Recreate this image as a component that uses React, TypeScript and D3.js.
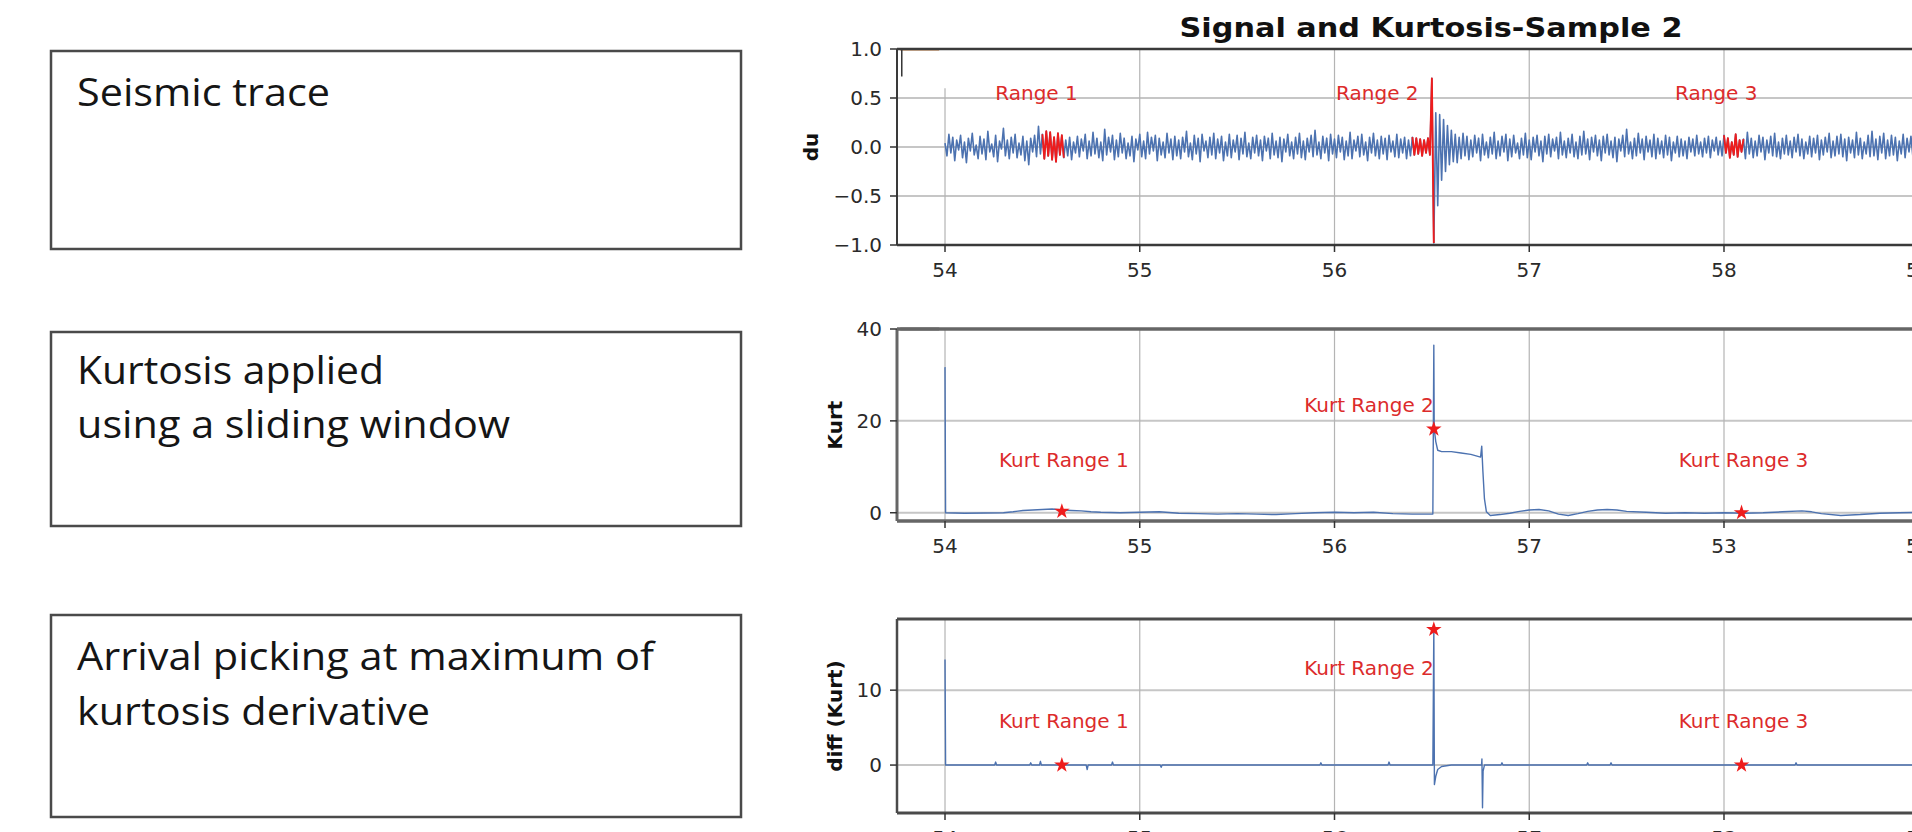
import React from "react";
import * as d3 from "d3";

const W = 1912;
const H = 832;

// ---------- left-hand text boxes ----------
const boxTexts: string[][] = [
  ["Seismic trace"],
  ["Kurtosis applied", "using a sliding window"],
  ["Arrival picking at maximum of", "kurtosis derivative"],
];
const boxRects = [
  { x: 51, y: 51, w: 690, h: 198 },
  { x: 51, y: 332, w: 690, h: 194 },
  { x: 51, y: 615, w: 690, h: 202 },
];
const boxBaselines = [[106], [384, 438], [670, 725]];
const boxTextWidths = [[253], [307, 433], [577, 353]];

// ---------- chart text ----------
const chartTitle = "Signal and Kurtosis-Sample 2";
const yLabels = ["du", "Kurt", "diff (Kurt)"];
const xTickValues = [54, 55, 56, 57, 58, 59];
const xTickLabelsTop = ["54", "55", "56", "57", "58", "59"];
const xTickLabelsLower = ["54", "55", "56", "57", "53", "59"];
const yTicksSignal = [-1, -0.5, 0, 0.5, 1];
const yTicksKurt = [0, 20, 40];
const yTicksDiff = [0, 10];

// ---------- seismic trace (du), sampled every 0.01 s from 54.00 ----------
const SIGNAL_T0 = 54.0;
const SIGNAL_DT = 0.01;
const signal: number[] = [
  0.04,-0.09,0.13,-0.06,0.10,-0.14,0.07,-0.03,0.12,-0.11,0.05,-0.16,0.09,-0.04,0.14,-0.08,0.02,-0.12,0.11,-0.07,
  0.08,-0.13,0.16,-0.05,0.03,-0.10,0.12,-0.15,0.06,-0.02,0.19,-0.09,0.07,-0.12,0.10,-0.06,0.13,-0.11,0.04,-0.08,
  0.11,-0.14,0.06,-0.18,0.09,-0.05,0.12,-0.10,0.21,-0.07,0.13,-0.12,0.16,-0.09,0.15,-0.13,0.10,-0.15,0.14,-0.08,
  0.12,-0.11,0.07,-0.09,0.10,-0.13,0.05,-0.06,0.11,-0.10,0.08,-0.04,0.13,-0.12,0.06,-0.09,0.15,-0.07,0.09,-0.11,
  0.05,-0.14,0.18,-0.08,0.10,-0.05,0.12,-0.13,0.07,-0.10,0.14,-0.06,0.09,-0.12,0.04,-0.09,0.11,-0.15,0.08,-0.03,
  0.13,-0.10,0.06,-0.12,0.15,-0.07,0.10,-0.04,0.12,-0.14,0.09,-0.08,0.05,-0.11,0.14,-0.06,0.08,-0.13,0.11,-0.09,
  0.07,-0.12,0.10,-0.05,0.16,-0.10,0.04,-0.13,0.12,-0.07,0.09,-0.15,0.13,-0.04,0.06,-0.11,0.10,-0.08,0.14,-0.12,
  0.08,-0.06,0.11,-0.14,0.05,-0.09,0.13,-0.11,0.07,-0.05,0.12,-0.13,0.09,-0.07,0.15,-0.10,0.04,-0.12,0.10,-0.06,
  0.12,-0.09,0.07,-0.14,0.11,-0.04,0.09,-0.12,0.14,-0.08,0.06,-0.11,0.10,-0.15,0.08,-0.05,0.13,-0.09,0.05,-0.12,
  0.10,-0.07,0.14,-0.11,0.06,-0.13,0.09,-0.05,0.12,-0.10,0.17,-0.08,0.05,-0.12,0.11,-0.06,0.09,-0.14,0.13,-0.07,
  0.08,-0.11,0.12,-0.05,0.10,-0.13,0.06,-0.09,0.15,-0.12,0.07,-0.04,0.11,-0.10,0.13,-0.08,0.05,-0.14,0.10,-0.06,
  0.14,-0.09,0.07,-0.12,0.11,-0.07,0.09,-0.13,0.12,-0.05,0.06,-0.10,0.13,-0.11,0.08,-0.06,0.10,-0.12,0.07,-0.09,
  0.10,-0.08,0.09,-0.07,0.08,-0.09,0.07,-0.06,0.09,-0.08,0.70,-0.98,0.35,-0.60,0.33,-0.34,0.28,-0.25,0.22,-0.18,
  0.17,-0.15,0.13,-0.16,0.10,-0.12,0.14,-0.09,0.11,-0.13,0.07,-0.10,0.12,-0.06,0.09,-0.14,0.13,-0.08,0.05,-0.11,
  0.10,-0.07,0.15,-0.12,0.06,-0.09,0.11,-0.05,0.13,-0.14,0.08,-0.10,0.12,-0.06,0.04,-0.12,0.09,-0.08,0.14,-0.11,
  0.07,-0.13,0.10,-0.05,0.12,-0.09,0.06,-0.15,0.11,-0.07,0.13,-0.10,0.08,-0.04,0.10,-0.12,0.15,-0.08,0.06,-0.11,
  0.09,-0.06,0.13,-0.10,0.05,-0.12,0.11,-0.08,0.16,-0.07,0.08,-0.13,0.10,-0.05,0.12,-0.09,0.07,-0.14,0.11,-0.06,
  0.13,-0.08,0.06,-0.11,0.10,-0.15,0.08,-0.04,0.12,-0.10,0.18,-0.07,0.05,-0.12,0.09,-0.09,0.14,-0.06,0.08,-0.13,
  0.11,-0.05,0.07,-0.10,0.13,-0.12,0.09,-0.07,0.06,-0.11,0.12,-0.08,0.10,-0.14,0.05,-0.06,0.11,-0.10,0.08,-0.09,
  0.06,-0.12,0.10,-0.05,0.08,-0.09,0.12,-0.07,0.05,-0.10,0.09,-0.06,0.11,-0.11,0.07,-0.04,0.10,-0.08,0.06,-0.09,
  0.12,-0.06,0.09,-0.11,0.05,-0.08,0.13,-0.10,0.07,-0.05,0.08,-0.12,0.15,-0.07,0.09,-0.11,0.06,-0.09,0.12,-0.05,
  0.10,-0.13,0.07,-0.06,0.11,-0.09,0.14,-0.10,0.05,-0.12,0.09,-0.07,0.12,-0.08,0.06,-0.11,0.10,-0.05,0.13,-0.09,
  0.08,-0.12,0.05,-0.07,0.11,-0.10,0.09,-0.06,0.12,-0.13,0.07,-0.08,0.10,-0.05,0.14,-0.11,0.06,-0.09,0.11,-0.07,
  0.13,-0.10,0.08,-0.14,0.10,-0.06,0.07,-0.11,0.15,-0.08,0.09,-0.12,0.05,-0.07,0.12,-0.10,0.16,-0.09,0.08,-0.13,
  0.11,-0.06,0.14,-0.12,0.07,-0.09,0.12,-0.08,0.10,-0.14,0.06,-0.07,0.13,-0.11,0.09,-0.05,0.11,-0.10,0.08,-0.12,
  0.10,-0.08,0.13,-0.06,0.07,-0.11,0.12,-0.09,0.05,-0.13,0.10,-0.07,0.14,-0.10,0.06,-0.08,0.11,-0.12,0.09,-0.05,
];
// sample index ranges highlighted in red (inclusive)
const redRangeStart = [50, 240, 400];
const redRangeEnd = [61, 251, 410];
const rangeLabels = ["Range 1", "Range 2", "Range 3"];
const rangeLabelT = [54.47, 56.22, 57.96];
const rangeLabelV = [0.48, 0.48, 0.48];

// ---------- kurtosis (sliding window) ----------
const kurtosis: [number, number][] = [
  [54.0, 31.7], [54.003, 0.0], [54.1, -0.1], [54.2, -0.05], [54.3, 0.0], [54.35, 0.2],
  [54.4, 0.5], [54.45, 0.6], [54.5, 0.7], [54.55, 0.8], [54.6, 0.6], [54.65, 0.5],
  [54.7, 0.4], [54.75, 0.2], [54.8, 0.1], [54.9, 0.0], [55.0, 0.1], [55.1, 0.2],
  [55.2, -0.1], [55.3, -0.2], [55.4, -0.3], [55.5, -0.2], [55.6, -0.3], [55.7, -0.4],
  [55.8, -0.2], [55.9, 0.0], [56.0, 0.1], [56.1, 0.0], [56.2, 0.1], [56.3, -0.2],
  [56.4, -0.3], [56.505, -0.3], [56.51, 36.5], [56.512, 18.2], [56.52, 15.5], [56.53, 13.6],
  [56.55, 13.3], [56.6, 13.3], [56.65, 13.0], [56.7, 12.7], [56.75, 12.1], [56.756, 14.5],
  [56.762, 9.0], [56.77, 3.0], [56.78, 0.2], [56.8, -0.6], [56.85, -0.4], [56.9, -0.1],
  [56.95, 0.3], [57.0, 0.6], [57.05, 0.7], [57.1, 0.4], [57.15, -0.3], [57.2, -0.6],
  [57.25, -0.2], [57.3, 0.3], [57.35, 0.6], [57.4, 0.7], [57.45, 0.6], [57.5, 0.3],
  [57.6, 0.1], [57.7, -0.1], [57.8, 0.0], [57.9, -0.1], [58.0, 0.0], [58.1, -0.1],
  [58.2, 0.0], [58.3, 0.2], [58.4, 0.4], [58.45, 0.2], [58.5, -0.2], [58.6, -0.6],
  [58.7, -0.4], [58.8, -0.1], [58.9, 0.0], [59.0, 0.1], [59.1, 0.0], [59.25, 0.0],
];

// ---------- derivative of kurtosis ----------
const kurtDiff: [number, number][] = [
  [54.0, 14.1], [54.003, 0], [54.255, 0], [54.26, 0.4], [54.265, 0], [54.435, 0], [54.44, 0.3],
  [54.445, 0], [54.485, 0], [54.49, 0.5], [54.495, 0], [54.725, 0], [54.73, -0.6], [54.735, 0],
  [54.855, 0], [54.86, 0.4], [54.865, 0], [55.105, 0], [55.11, -0.3], [55.115, 0], [55.925, 0],
  [55.93, 0.3], [55.935, 0], [56.275, 0], [56.28, 0.4], [56.285, 0], [56.505, 0], [56.51, 18.3],
  [56.513, -2.6], [56.52, -1.5], [56.53, -0.6], [56.55, -0.2], [56.6, 0], [56.755, 0],
  [56.757, 0.8], [56.76, -5.7], [56.763, -0.8], [56.77, 0], [56.855, 0], [56.86, 0.3],
  [56.865, 0], [57.295, 0], [57.3, 0.3], [57.305, 0], [57.415, 0], [57.42, 0.3], [57.425, 0],
  [58.365, 0], [58.37, 0.3], [58.375, 0], [59.25, 0],
];

// ---------- picks (stars) ----------
const pickT = [54.6, 56.51, 58.09];
const pickKurt = [0.3, 18.2, 0.0];
const pickDiff = [0.0, 18.1, 0.0];
const kurtLabels = ["Kurt Range 1", "Kurt Range 2", "Kurt Range 3"];
const kurtLabelT = [54.61, 56.51, 58.1];
const kurtLabelAnchor = ["middle", "end", "middle"];
const kurtLabelVKurt = [10, 22, 10];
const kurtLabelVDiff = [4.9, 12, 4.9];

// ---------- styling ----------
const BLUE = "#4c72b0";
const RED = "#ee1c1c";
const TEXT_RED = "#dc2b2b";
const FONT = "'DejaVu Sans', sans-serif";

const xScale = d3.scaleLinear().domain([53.7535, 59.2375]).range([897, 1965]);

interface PanelCfg {
  id: string;
  top: number;
  bottom: number;
  domain: [number, number];
  yTicks: number[];
  yFmt: (v: number) => string;
  xLabels: string[];
  yLabel: string;
  yLabelX: number;
  spine: string;
  spineW: number;
}

const panels: PanelCfg[] = [
  { id: "p1", top: 49, bottom: 245, domain: [-1, 1], yTicks: yTicksSignal, yFmt: d3.format(".1f"), xLabels: xTickLabelsTop, yLabel: yLabels[0], yLabelX: 811, spine: "#3a3a3a", spineW: 2.5 },
  { id: "p2", top: 329, bottom: 521, domain: [-1.8, 40], yTicks: yTicksKurt, yFmt: d3.format("d"), xLabels: xTickLabelsLower, yLabel: yLabels[1], yLabelX: 835, spine: "#666", spineW: 3.5 },
  { id: "p3", top: 619, bottom: 813, domain: [-6.4, 19.5], yTicks: yTicksDiff, yFmt: d3.format("d"), xLabels: xTickLabelsLower, yLabel: yLabels[2], yLabelX: 835, spine: "#4a4a4a", spineW: 3 },
];

function yScaleOf(p: PanelCfg) {
  return d3.scaleLinear().domain(p.domain).range([p.bottom, p.top]);
}

function Frame({ p, children, gridTop }: { p: PanelCfg; children?: React.ReactNode; gridTop?: number[] }) {
  const y = yScaleOf(p);
  const [x0, x1] = xScale.range();
  return (
    <g>
      <defs>
        <clipPath id={`clip-${p.id}`}>
          <rect x={x0} y={p.top - 2} width={x1 - x0} height={p.bottom - p.top + 4} />
        </clipPath>
      </defs>
      {p.yTicks.map((t) => (
        <line key={"gy" + t} x1={x0} x2={x1} y1={y(t)} y2={y(t)} stroke="#c6c6c6" strokeWidth={2} />
      ))}
      {xTickValues.map((t, i) => (
        <line key={"gx" + t} x1={xScale(t)} x2={xScale(t)} y1={gridTop ? y(gridTop[i]) : p.top} y2={p.bottom} stroke="#b4b4b4" strokeWidth={1.2} />
      ))}
      <g clipPath={`url(#clip-${p.id})`}>{children}</g>
      <line x1={x0} x2={x1} y1={p.top} y2={p.top} stroke={p.spine} strokeWidth={p.spineW} />
      <line x1={x0} x2={x1} y1={p.bottom} y2={p.bottom} stroke={p.spine} strokeWidth={p.spineW} />
      <line x1={x0} x2={x0} y1={p.top} y2={p.bottom} stroke={p.spine} strokeWidth={p.spineW - 0.5} />
      {p.yTicks.map((t) => (
        <g key={"ty" + t}>
          <line x1={x0 - 7} x2={x0} y1={y(t)} y2={y(t)} stroke="#333" strokeWidth={1.5} />
          <text x={x0 - 15} y={y(t)} textAnchor="end" dominantBaseline="central" fontFamily={FONT} fontSize={20} fill="#2a2a2a">
            {p.yFmt(t)}
          </text>
        </g>
      ))}
      {xTickValues.map((t, i) => (
        <g key={"tx" + t}>
          <line x1={xScale(t)} x2={xScale(t)} y1={p.bottom} y2={p.bottom + 7} stroke="#333" strokeWidth={1.5} />
          <text x={xScale(t)} y={p.bottom + 25} textAnchor="middle" dominantBaseline="central" fontFamily={FONT} fontSize={20} fill="#2a2a2a">
            {p.xLabels[i]}
          </text>
        </g>
      ))}
      <text
        transform={`translate(${p.yLabelX},${(p.top + p.bottom) / 2}) rotate(-90)`}
        textAnchor="middle"
        dominantBaseline="central"
        fontFamily={FONT}
        fontWeight="bold"
        fontSize={20}
        fill="#111"
      >
        {p.yLabel}
      </text>
    </g>
  );
}

function Star({ x, y }: { x: number; y: number }) {
  const d = d3.symbol(d3.symbolStar, 75)() as string;
  return <path d={d} transform={`translate(${x},${y})`} fill={RED} />;
}

export default function App() {
  const [p1, p2, p3] = panels;
  const y1 = yScaleOf(p1);
  const y2 = yScaleOf(p2);
  const y3 = yScaleOf(p3);

  const sigPts: [number, number][] = signal.map((v, i) => [SIGNAL_T0 + i * SIGNAL_DT, v]);
  const sigLine = d3
    .line<[number, number]>()
    .x((d) => xScale(d[0]))
    .y((d) => y1(d[1]));
  const kLine = d3
    .line<[number, number]>()
    .x((d) => xScale(d[0]))
    .y((d) => y2(d[1]));
  const dLine = d3
    .line<[number, number]>()
    .x((d) => xScale(d[0]))
    .y((d) => y3(d[1]));

  return (
    <svg width={W} height={H} style={{ position: "absolute", left: 0, top: 0, background: "#fff" }}>
      <rect x={0} y={0} width={W} height={H} fill="#fff" />

      {boxRects.map((r, bi) => (
        <g key={"box" + bi}>
          <rect x={r.x} y={r.y} width={r.w} height={r.h} fill="#fff" stroke="#4a4a4a" strokeWidth={2.5} />
          {boxTexts[bi].map((line, li) => (
            <text
              key={li}
              x={77}
              y={boxBaselines[bi][li]}
              fontFamily="'Open Sans', 'Lato', sans-serif"
              fontSize={39}
              fill="#151515"
              textLength={boxTextWidths[bi][li]}
              lengthAdjust="spacingAndGlyphs"
            >
              {line}
            </text>
          ))}
        </g>
      ))}

      <text x={1431} y={37} textAnchor="middle" fontFamily={FONT} fontWeight="bold" fontSize={26} fill="#111" textLength={503} lengthAdjust="spacingAndGlyphs">
        {chartTitle}
      </text>

      <Frame p={p1} gridTop={[0.6, 1, 1, 1, 1, 1]}>
        <line x1={xScale(53.77)} x2={xScale(53.97)} y1={y1(0.995)} y2={y1(0.995)} stroke="#c57a3c" strokeWidth={2} />
        <line x1={xScale(53.778)} x2={xScale(53.778)} y1={y1(1)} y2={y1(0.72)} stroke="#333" strokeWidth={1.5} />
        <path d={sigLine(sigPts) || ""} fill="none" stroke={BLUE} strokeWidth={1.6} strokeLinejoin="round" />
        {redRangeStart.map((s, i) => (
          <path
            key={"red" + i}
            d={sigLine(sigPts.slice(s, redRangeEnd[i] + 1)) || ""}
            fill="none"
            stroke={RED}
            strokeWidth={1.9}
            strokeLinejoin="round"
          />
        ))}
        {rangeLabels.map((l, i) => (
          <text key={l} x={xScale(rangeLabelT[i])} y={y1(rangeLabelV[i])} textAnchor="middle" fontFamily={FONT} fontSize={20} fill={TEXT_RED}>
            {l}
          </text>
        ))}
      </Frame>

      <Frame p={p2}>
        <line x1={xScale(53.77)} x2={xScale(53.97)} y1={y2(40)} y2={y2(40)} stroke="#777" strokeWidth={3} />
        <path d={kLine(kurtosis) || ""} fill="none" stroke={BLUE} strokeWidth={1.4} strokeLinejoin="round" />
        {kurtLabels.map((l, i) => (
          <text
            key={l}
            x={xScale(kurtLabelT[i])}
            y={y2(kurtLabelVKurt[i])}
            textAnchor={kurtLabelAnchor[i] as any}
            fontFamily={FONT}
            fontSize={20}
            fill={TEXT_RED}
          >
            {l}
          </text>
        ))}
        {pickT.map((t, i) => (
          <Star key={"s2" + i} x={xScale(t)} y={y2(pickKurt[i])} />
        ))}
      </Frame>

      <Frame p={p3}>
        <path d={dLine(kurtDiff) || ""} fill="none" stroke={BLUE} strokeWidth={1.4} strokeLinejoin="round" />
        {kurtLabels.map((l, i) => (
          <text
            key={l}
            x={xScale(kurtLabelT[i])}
            y={y3(kurtLabelVDiff[i])}
            textAnchor={kurtLabelAnchor[i] as any}
            fontFamily={FONT}
            fontSize={20}
            fill={TEXT_RED}
          >
            {l}
          </text>
        ))}
        {pickT.map((t, i) => (
          <Star key={"s3" + i} x={xScale(t)} y={y3(pickDiff[i])} />
        ))}
      </Frame>
    </svg>
  );
}
